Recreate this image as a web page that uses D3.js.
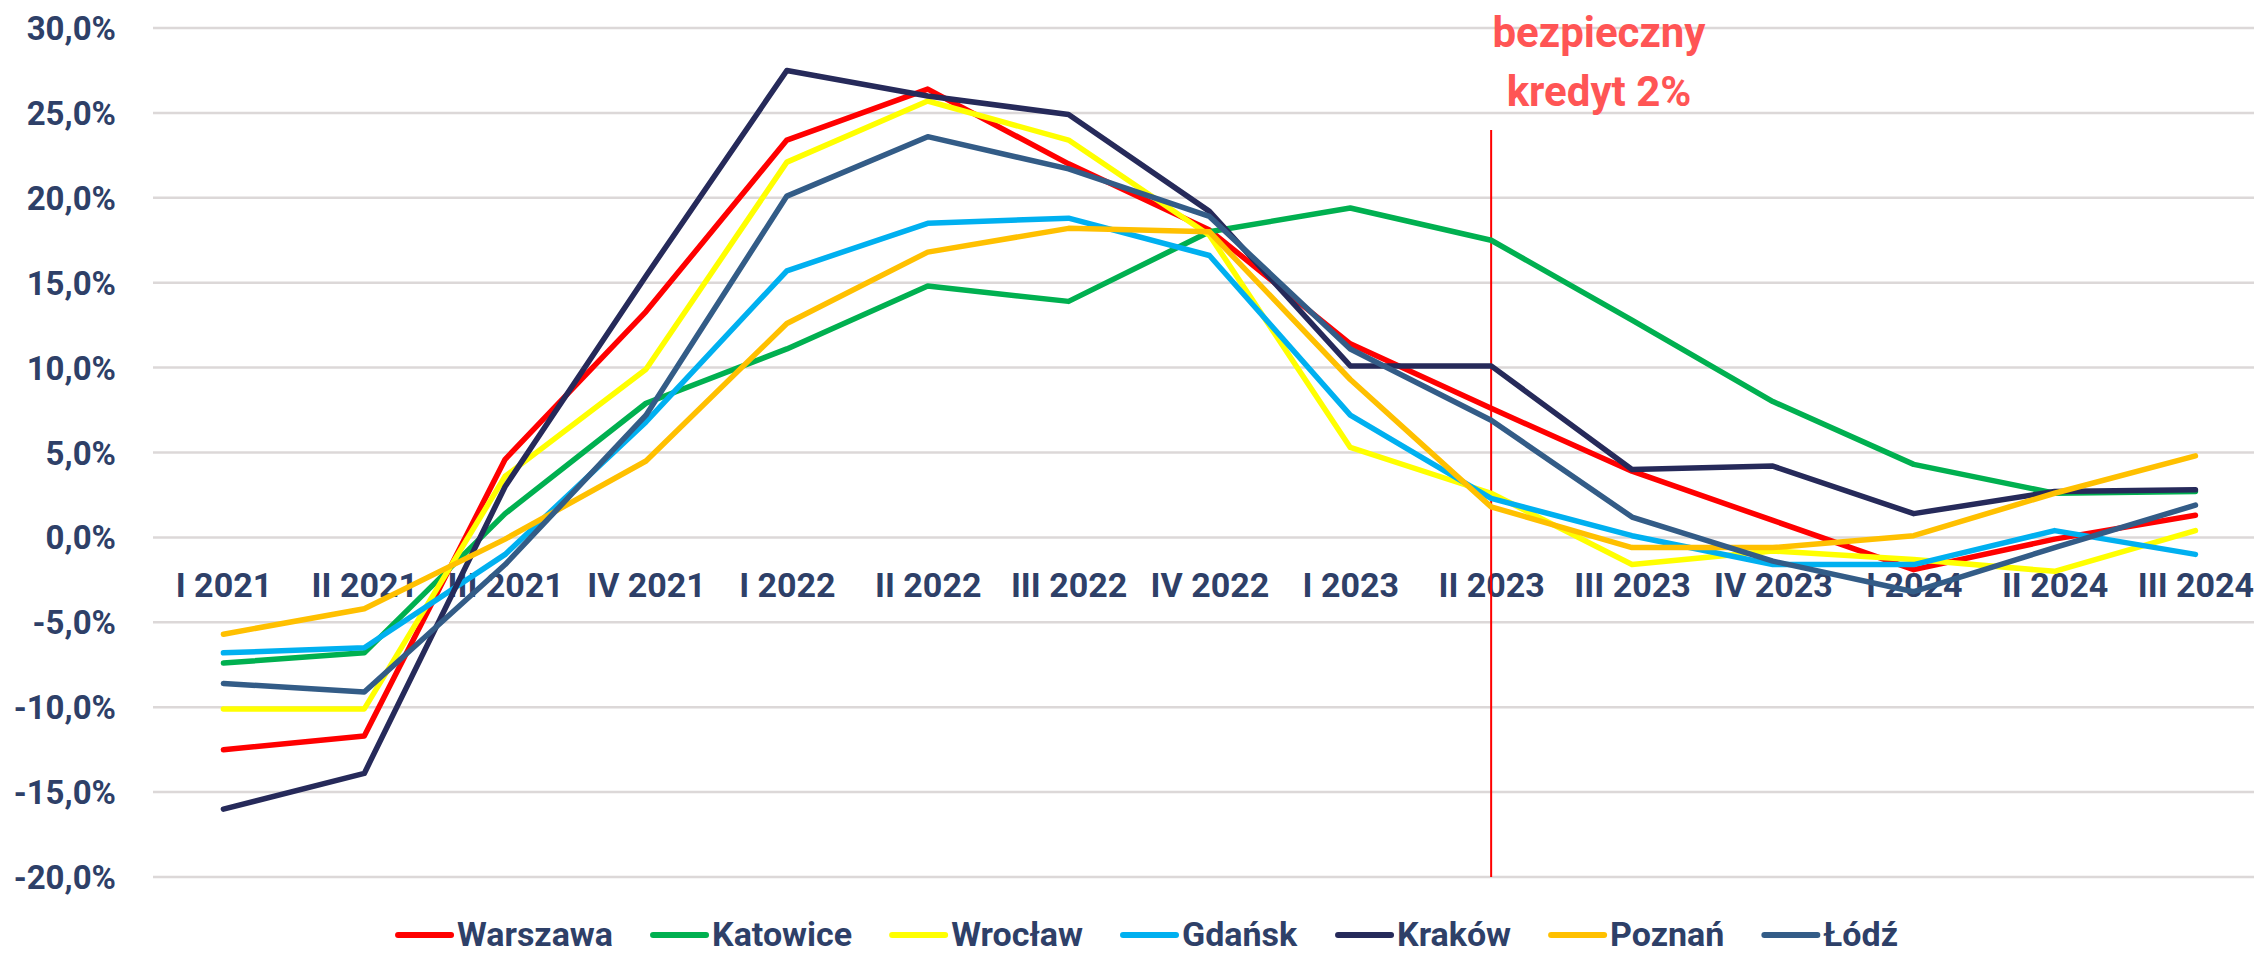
<!DOCTYPE html>
<html>
<head>
<meta charset="utf-8">
<script src="https://cdn.jsdelivr.net/npm/d3@7"></script>
<style>
  body { margin: 0; background: #fff; }
  svg { display: block; }
  text { font-family: Roboto, "Liberation Sans", sans-serif; font-weight: bold; }
</style>
</head>
<body>
<svg id="chart" width="2254" height="957">
  <g id="grid"></g>
  <g id="axes"></g>
  <g id="marker"></g>
  <g id="line"></g>
  <g id="legend"></g>
</svg>
<script>
// quarters on the x axis
let quarters = ["I 2021", "II 2021", "III 2021", "IV 2021", "I 2022", "II 2022", "III 2022",
  "IV 2022", "I 2023", "II 2023", "III 2023", "IV 2023", "I 2024", "II 2024", "III 2024"]

let cities = ["Warszawa", "Katowice", "Wrocław", "Gdańsk", "Kraków", "Poznań", "Łódź"]
let colors = ["#FF0000", "#00B050", "#FFFF00", "#00B0F0", "#262A5A", "#FFC000", "#335C87"]

// year-on-year change, %
let warszawa = [-12.5, -11.7, 4.6, 13.3, 23.4, 26.4, 22.0, 18.1, 11.4, 7.6, 3.9, 1.0, -1.9, -0.1, 1.3]
let katowice = [-7.4, -6.8, 1.4, 7.9, 11.1, 14.8, 13.9, 18.0, 19.4, 17.5, 12.8, 8.0, 4.3, 2.6, 2.7]
let wroclaw = [-10.1, -10.1, 3.6, 9.9, 22.1, 25.7, 23.4, 17.8, 5.3, 2.6, -1.6, -0.8, -1.3, -2.0, 0.4]
let gdansk = [-6.8, -6.5, -1.0, 6.8, 15.7, 18.5, 18.8, 16.6, 7.2, 2.3, 0.1, -1.6, -1.6, 0.4, -1.0]
let krakow = [-16.0, -13.9, 3.0, 15.4, 27.5, 26.0, 24.9, 19.2, 10.1, 10.1, 4.0, 4.2, 1.4, 2.7, 2.8]
let poznan = [-5.7, -4.2, -0.1, 4.5, 12.6, 16.8, 18.2, 18.0, 9.3, 1.8, -0.6, -0.6, 0.1, 2.6, 4.8]
let lodz = [-8.6, -9.1, -1.6, 7.2, 20.1, 23.6, 21.7, 18.9, 11.1, 6.9, 1.2, -1.4, -3.2, -0.6, 1.9]

let yTicks = [30, 25, 20, 15, 10, 5, 0, -5, -10, -15, -20]
let markerQuarter = "II 2023"
let markerText = ["bezpieczny", "kredyt 2%"]

let width = 2254,
    height = 957,
    margins = {top: 28, bottom: 80, left: 153, right: 0}

function make_scales() {
  let step = (2195 - 223) / (quarters.length - 1)
  return {
    x: d3.scalePoint()
         .domain(quarters)
         .range([margins.left + step / 2, margins.left + step / 2 + step * (quarters.length - 1)]),
    y: d3.scaleLinear()
         .domain([-20, 30])
         .range([height - margins.bottom, margins.top])
  }
}

function pct(v) {
  return d3.format(".1f")(v).replace(".", ",").replace("−", "-") + "%"
}

function add_grid(scales) {
  let g = d3.select("#grid")
  g.selectAll("line")
    .data(yTicks).enter()
    .append("line")
    .attr("x1", margins.left)
    .attr("x2", width)
    .attr("y1", d => scales.y(d))
    .attr("y2", d => scales.y(d))
    .attr("stroke", "#DCD8D8")
    .attr("stroke-width", 2.5)
}

function add_axes(scales) {
  let axes = d3.select("#axes")
  let y_axis = d3.axisLeft(scales.y)
    .tickValues(yTicks)
    .tickFormat(pct)
    .tickSize(0)
    .tickPadding(0)

  axes.append("g")
    .attr("id", "y_axis")
    .attr("transform", "translate(116,0)")
    .call(y_axis)
    .call(g => g.select(".domain").remove())
    .selectAll("text")
    .attr("fill", "#2E4068")
    .attr("font-size", 33)
    .attr("dy", "0.35em")

  let x_axis = d3.axisBottom(scales.x)
    .tickSize(0)
    .tickPadding(0)

  axes.append("g")
    .attr("id", "x_axis")
    .attr("transform", "translate(0,597)")
    .call(x_axis)
    .call(g => g.select(".domain").remove())
    .selectAll("text")
    .attr("fill", "#2E4068")
    .attr("font-size", 34)
    .attr("dy", 0)
}

function add_marker(scales) {
  let x = scales.x(markerQuarter)
  let g = d3.select("#marker")
  g.append("line")
    .attr("x1", x).attr("x2", x)
    .attr("y1", 130).attr("y2", scales.y(-20))
    .attr("stroke", "#FF0000")
    .attr("stroke-width", 2)

  g.selectAll("text")
    .data(markerText).enter()
    .append("text")
    .attr("x", 1599)
    .attr("y", (d, i) => 47 + i * 59)
    .attr("text-anchor", "middle")
    .attr("fill", "#FF5555")
    .attr("font-size", 42)
    .text(d => d)
}

function draw_line(series, scales) {
  let path_generator = d3.line()
    .x((d, i) => scales.x(quarters[i]))
    .y(d => scales.y(d))

  d3.select("#line")
    .selectAll("path")
    .data(series).enter()
    .append("path")
    .attr("d", path_generator)
    .attr("fill", "none")
    .attr("stroke", (d, i) => colors[i])
    .attr("stroke-width", 5.5)
    .attr("stroke-linejoin", "round")
    .attr("stroke-linecap", "round")
}

function add_legend() {
  let g = d3.select("#legend")
  let items = g.selectAll("g")
    .data(cities).enter()
    .append("g")

  items.append("line")
    .attr("x1", 0).attr("x2", 53)
    .attr("y1", 935).attr("y2", 935)
    .attr("stroke", (d, i) => colors[i])
    .attr("stroke-width", 6)
    .attr("stroke-linecap", "round")

  items.append("text")
    .attr("x", 59)
    .attr("y", 946)
    .attr("fill", "#2E4068")
    .attr("font-size", 34)
    .text(d => d)

  // lay items out side by side, centred like the original
  let widths = []
  items.each(function() { widths.push(this.getBBox().width) })
  let gap = 40
  let total = d3.sum(widths) + gap * (widths.length - 1)
  let x = 1148 - total / 2
  items.attr("transform", (d, i) => {
    let t = `translate(${x},0)`
    x += widths[i] + gap
    return t
  })
}

let scales = make_scales()
add_grid(scales)
add_axes(scales)
add_marker(scales)
draw_line([warszawa, katowice, wroclaw, gdansk, krakow, poznan, lodz], scales)
add_legend()
</script>
</body>
</html>
